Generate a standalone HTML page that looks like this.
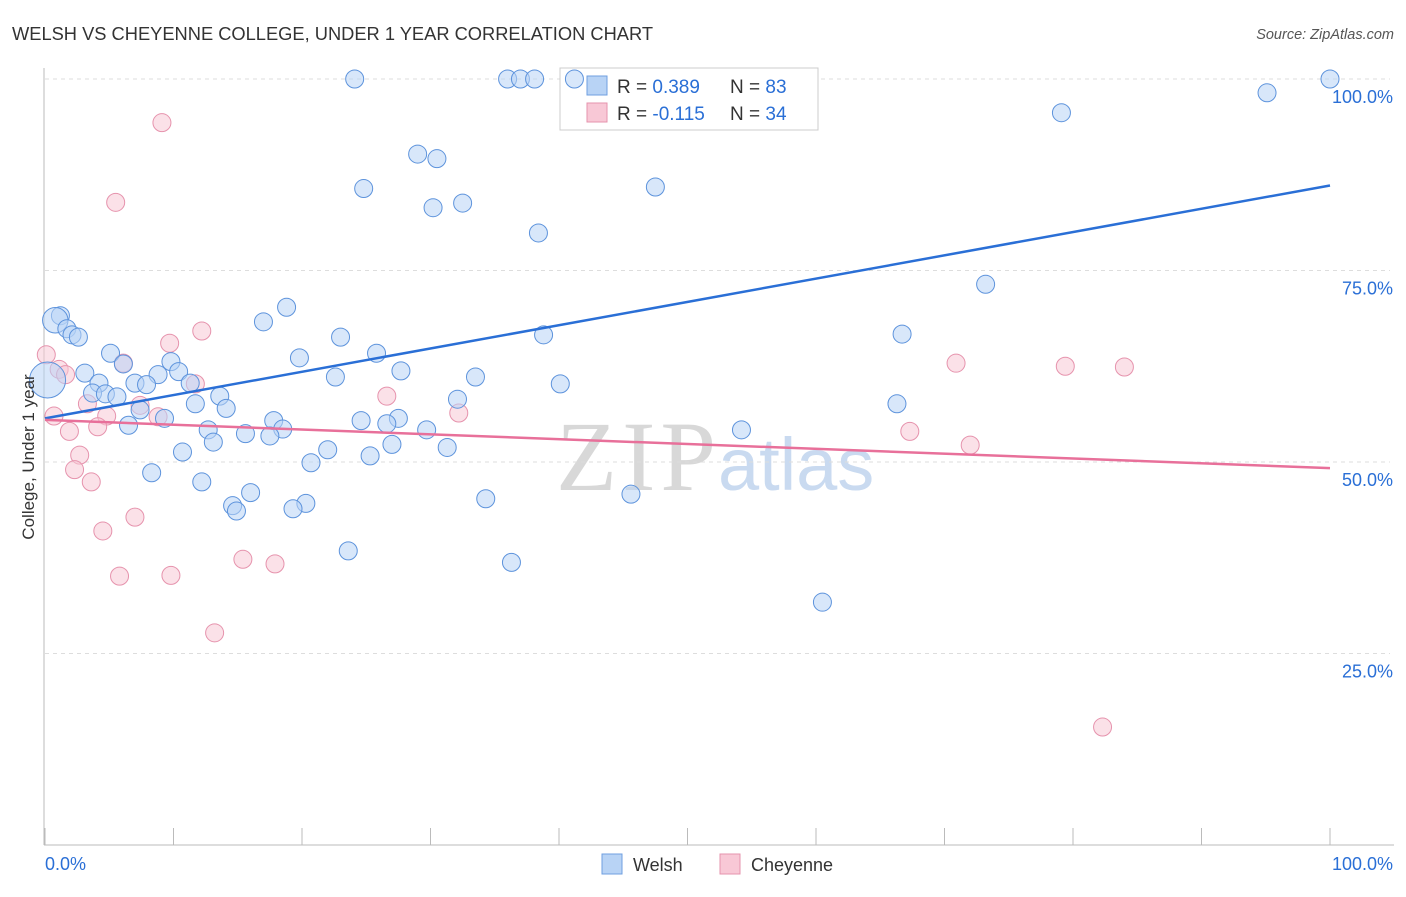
<!DOCTYPE html>
<html><head><meta charset="utf-8"><style>
body{margin:0;background:#fff;font-family:"Liberation Sans",sans-serif}
</style></head><body>
<svg width="1406" height="892" xmlns="http://www.w3.org/2000/svg" id="chart">
<text x="12" y="40" font-size="18.3" fill="#333">WELSH VS CHEYENNE COLLEGE, UNDER 1 YEAR CORRELATION CHART</text>
<text x="1394" y="39" font-size="14.5" fill="#555" text-anchor="end" font-style="italic">Source: ZipAtlas.com</text>
<text x="716" y="490" font-size="100" fill="#d8d8d8" text-anchor="end" font-family="Liberation Serif" textLength="160">ZIP</text>
<text x="718" y="490" font-size="74" fill="#c9daf0">atlas</text>
<g id="grid"></g><g id="axes"></g>
<g>
<rect x="560" y="68" width="258" height="62" fill="#fff" stroke="#ccc"/>
<rect x="587" y="76" width="20" height="19" fill="#b8d3f5" stroke="#6f9fe0"/>
<rect x="587" y="103" width="20" height="19" fill="#f8c8d6" stroke="#e693ad"/>
<text x="617" y="93" font-size="19" fill="#333">R = <tspan fill="#2a6fd6">0.389</tspan></text>
<text x="730" y="93" font-size="19" fill="#333">N = <tspan fill="#2a6fd6">83</tspan></text>
<text x="617" y="120" font-size="19" fill="#333">R = <tspan fill="#2a6fd6">-0.115</tspan></text>
<text x="730" y="120" font-size="19" fill="#333">N = <tspan fill="#2a6fd6">34</tspan></text>
</g>
<g id="marks"></g>
<text transform="translate(34,457) rotate(-90)" font-size="17" fill="#333" text-anchor="middle">College, Under 1 year</text>
<g>
<rect x="602" y="854" width="20" height="20" fill="#b8d3f5" stroke="#6f9fe0"/>
<text x="633" y="871" font-size="18" fill="#333">Welsh</text>
<rect x="720" y="854" width="20" height="20" fill="#f8c8d6" stroke="#e693ad"/>
<text x="751" y="871" font-size="18" fill="#333">Cheyenne</text>
</g>
</svg>
<script>
const yTicks=[25,50,75,100];
const yTickLabels=["25.0%","50.0%","75.0%","100.0%"];
const xTickLabels=["0.0%","100.0%"];
const welshX=[24.1,36.0,37.0,38.1,41.2,100,95.1,79.1,29.0,30.5,47.5,24.8,32.5,30.2,38.4,73.2,18.8,17.0,1.2,0.8,1.7,2.1,2.6,23.0,38.8,66.7,5.1,19.8,25.8,6.1,9.8,3.1,27.7,8.8,10.4,22.6,33.5,4.2,7.0,7.9,11.3,40.1,3.7,4.7,5.6,13.6,32.1,11.7,14.1,7.4,9.3,66.3,17.8,24.6,27.5,26.6,6.5,12.7,18.5,29.7,54.2,13.1,15.6,17.5,27.0,31.3,22.0,10.7,25.3,20.7,8.3,12.2,16.0,45.6,34.3,14.6,14.9,20.3,19.3,23.6,36.3,60.5,0.2];
const welshY=[100,100,100,100,100,100,98.2,95.6,90.2,89.6,85.9,85.7,83.8,83.2,79.9,73.2,70.2,68.3,69.1,68.5,67.4,66.6,66.3,66.3,66.6,66.7,64.2,63.6,64.2,62.8,63.1,61.6,61.9,61.4,61.8,61.1,61.1,60.3,60.3,60.1,60.3,60.2,59.0,58.9,58.5,58.6,58.2,57.6,57.0,56.8,55.7,57.6,55.4,55.4,55.7,55.0,54.8,54.2,54.3,54.2,54.2,52.6,53.7,53.4,52.3,51.9,51.6,51.3,50.8,49.9,48.6,47.4,46.0,45.8,45.2,44.3,43.6,44.6,43.9,38.4,36.9,31.7,60.7];
const welshW=[1,1,1,1,1,1,1,1,1,1,1,1,1,1,1,1,1,1,1,2,1,1,1,1,1,1,1,1,1,1,1,1,1,1,1,1,1,1,1,1,1,1,1,1,1,1,1,1,1,1,1,1,1,1,1,1,1,1,1,1,1,1,1,1,1,1,1,1,1,1,1,1,1,1,1,1,1,1,1,1,1,1,4];
const cheyX=[9.1,5.5,12.2,9.7,0.1,1.1,1.6,6.1,11.7,26.6,3.3,7.4,0.7,4.8,8.8,32.2,1.9,4.1,2.7,2.3,3.6,7.0,4.5,15.4,17.9,5.8,9.8,13.2,70.9,79.4,84.0,67.3,72.0,82.3];
const cheyY=[94.3,83.9,67.1,65.5,64.0,62.1,61.4,62.9,60.2,58.6,57.6,57.4,56.0,56.0,55.9,56.4,54.0,54.6,50.9,49.0,47.4,42.8,41.0,37.3,36.7,35.1,35.2,27.7,62.9,62.5,62.4,54.0,52.2,15.4];
const welshTrend=[55.7,86.1];
const cheyTrend=[55.5,49.2];
const NS="http://www.w3.org/2000/svg";
const X=v=>45+v*12.85, Y=v=>845-v*7.66;
function mk(tag,at,parent){const e=document.createElementNS(NS,tag);for(const k in at)e.setAttribute(k,at[k]);parent.appendChild(e);return e;}
const grid=document.getElementById('grid'),axes=document.getElementById('axes'),marks=document.getElementById('marks');
yTicks.forEach((t,i)=>{
 const l=mk('line',{x1:45,x2:1390,y1:Y(t),y2:Y(t),stroke:'#ddd','stroke-dasharray':'4,4'},grid);
 
 
 const tx=mk('text',{x:1393,y:Y(t)+24,'font-size':18,fill:'#2a6fd6','text-anchor':'end'},axes);
 tx.textContent=yTickLabels[i];
 
 
});
const la=mk('line',{x1:44,x2:44,y1:68,y2:845,stroke:'#bbb'},axes);


const ba=mk('line',{x1:44,x2:1394,y1:845,y2:845,stroke:'#bbb'},axes);


for(let i=0;i<=10;i++){const t=mk('line',{x1:X(i*10),x2:X(i*10),y1:828,y2:845,stroke:'#bbb'},axes);
 
 }
[[0,'start',45],[100,'end',1393]].forEach((d,i)=>{const t=mk('text',{x:d[2],y:870,'font-size':18,fill:'#2a6fd6','text-anchor':d[1]},axes);t.textContent=xTickLabels[i];
 
 });
function dots(xs,ys,ws,fill,stroke,name){xs.forEach((x,i)=>{const r=ws?9*Math.sqrt(ws[i]):9;
 const c=mk('circle',{cx:X(x),cy:Y(ys[i]),r:r,fill:fill,'fill-opacity':0.55,stroke:stroke,'stroke-width':1},marks);
 
 });}
dots(cheyX,cheyY,null,'#f8c8d6','#e693ad','cheyenne-point');
dots(welshX,welshY,welshW,'#b8d3f5','#5d93dc','welsh-point');
const t1=mk('line',{x1:X(0),y1:Y(welshTrend[0]),x2:X(100),y2:Y(welshTrend[1]),stroke:'#2a6fd6','stroke-width':2.5},marks);


const t2=mk('line',{x1:X(0),y1:Y(cheyTrend[0]),x2:X(100),y2:Y(cheyTrend[1]),stroke:'#e8709a','stroke-width':2.5},marks);


</script>
</body></html>
